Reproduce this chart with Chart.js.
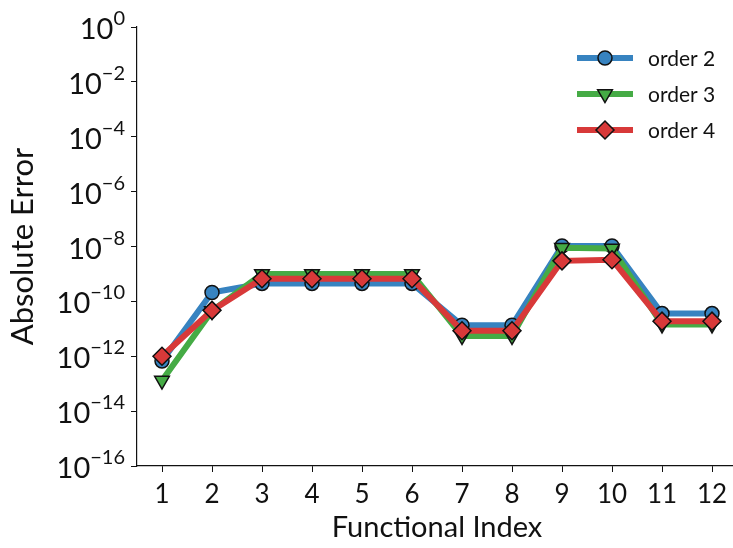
<!DOCTYPE html>
<html lang="en">
<head>
  <meta charset="UTF-8" />
  <title>Absolute Error by Functional Index</title>
  <script src="https://cdn.jsdelivr.net/npm/chart.js@4.4.0/dist/chart.umd.min.js"></script>
  <style>
    body  { margin:0; overflow:hidden; background:#fff; }
    .wrap { width:737px; height:548px; }
  </style>
</head>
<body>
  <div class="wrap"><canvas id="chart" width="737" height="548"></canvas></div>

  <script>
    /* ── data ── */
    const indices = ['1','2','3','4','5','6','7','8','9','10','11','12'];
    const order2  = [6.7e-13, 2.1e-10, 4.5e-10, 4.5e-10, 4.5e-10, 4.5e-10, 1.35e-11, 1.35e-11, 1.05e-8, 1.05e-8, 3.6e-11, 3.6e-11];
    const order3  = [1.3e-13, 4.5e-11, 1.0e-9, 1.0e-9, 1.0e-9, 1.0e-9, 5.5e-12, 5.5e-12, 9.0e-9, 8.5e-9, 1.45e-11, 1.45e-11];
    const order4  = [1.0e-12, 4.7e-11, 6.7e-10, 6.7e-10, 6.7e-10, 6.7e-10, 8.5e-12, 8.5e-12, 3.0e-9, 3.3e-9, 1.9e-11, 1.9e-11];
    const yExponents = [0, -2, -4, -6, -8, -10, -12, -14, -16];

    const FONT = 'Lato, "DejaVu Sans", sans-serif';

    const series = [
      {label:'order 2', data:order2, color:'#3783c0', style:'circle',   radius:7,   rotation:0,   order:3},
      {label:'order 3', data:order3, color:'#45ab45', style:'triangle', radius:8.5, rotation:180, order:2},
      {label:'order 4', data:order4, color:'#d83939', style:'rectRot',  radius:9,   rotation:0,   order:1}
    ];

    const datasets = series.map(s=>({
      label:s.label,
      data:s.data,
      borderColor:s.color,
      backgroundColor:s.color,
      borderWidth:6,
      pointStyle:s.style,
      pointRadius:s.radius,
      pointRotation:s.rotation,
      pointBackgroundColor:s.color,
      pointBorderColor:'#111',
      pointBorderWidth:1.5,
      tension:0,
      order:s.order
    }));

    /* y tick labels as 10^k, and a matplotlib-like legend */
    const decor = {
      id:'decor',
      afterDraw(chart){
        const ctx = chart.ctx, y = chart.scales.y;
        ctx.save();
        ctx.fillStyle = '#111';
        ctx.textBaseline = 'alphabetic';
        yExponents.forEach(e=>{
          const py = y.getPixelForValue(Math.pow(10, e));
          const exp = String(e).replace('-', '\u2212');
          ctx.font = '20px ' + FONT;
          const ew = ctx.measureText(exp).width;
          const right = 125;
          ctx.textAlign = 'left';
          ctx.fillText(exp, right - ew, py - 2);
          ctx.font = '29px ' + FONT;
          ctx.textAlign = 'right';
          ctx.fillText('10', right - ew, py + 12);
        });

        // legend
        const x0 = 577, x1 = 633, tx = 648;
        series.forEach((s,i)=>{
          const ly = 58 + i*36;
          ctx.strokeStyle = s.color;
          ctx.lineWidth = 6;
          ctx.beginPath(); ctx.moveTo(x0, ly); ctx.lineTo(x1, ly); ctx.stroke();
          ctx.fillStyle = s.color;
          ctx.strokeStyle = '#111';
          ctx.lineWidth = 1.5;
          Chart.helpers.drawPoint(ctx, {pointStyle:s.style, radius:s.radius, rotation:s.rotation, borderWidth:1.5}, (x0+x1)/2, ly);
          ctx.fillStyle = '#111';
          ctx.font = '21px ' + FONT;
          ctx.textAlign = 'left';
          ctx.textBaseline = 'middle';
          ctx.fillText(s.label, tx, ly + 1);
        });
        ctx.restore();
      }
    };

    new Chart(document.getElementById('chart'), {
      type:'line',
      data:{ labels:indices, datasets },
      plugins:[decor],
      options:{
        responsive:false,
        animation:false,
        layout:{ autoPadding:false, padding:{ top:27, left:0, right:0, bottom:0 } },
        plugins:{ legend:{display:false}, tooltip:{enabled:false} },
        scales:{
          x:{
            offset:true,
            grid:{ display:true, drawOnChartArea:false, drawTicks:true, tickLength:6, color:'#111', offset:false },
            border:{ display:true, color:'#111', width:1.2 },
            ticks:{ color:'#111', font:{ family:FONT, size:26 }, padding:7, maxRotation:0, autoSkip:false },
            title:{ display:true, text:'Functional Index', color:'#111', font:{ family:FONT, size:29 }, padding:{ top:0, bottom:3 } },
            afterFit(scale){ scale.height = 82; scale.paddingLeft = 0; scale.paddingRight = 0; }
          },
          y:{
            type:'logarithmic',
            min:1e-16,
            max:1,
            afterBuildTicks(scale){ scale.ticks = yExponents.map(e=>({ value:Math.pow(10, e) })); },
            grid:{ display:true, drawOnChartArea:false, drawTicks:true, tickLength:6, color:'#111' },
            border:{ display:true, color:'#111', width:1.2 },
            ticks:{ display:false },
            title:{ display:true, text:'Absolute Error', color:'#111', font:{ family:FONT, size:31 }, padding:{ top:4, bottom:0 } },
            afterFit(scale){ scale.width = 137; scale.paddingTop = 0; scale.paddingBottom = 0; }
          }
        }
      }
    });
  </script>
</body>
</html>
